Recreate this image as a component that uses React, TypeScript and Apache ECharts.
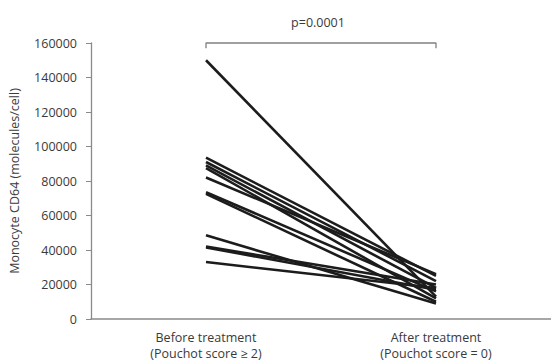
import React, { useEffect, useRef } from "react";
import * as echarts from "echarts";

const categories = ["Before treatment\n(Pouchot score ≥ 2)", "After treatment\n(Pouchot score = 0)"];
const beforeValues = [150000, 93500, 91000, 89000, 87500, 82000, 73500, 72500, 48500, 42000, 41500, 33000];
const afterValues = [13000, 25000, 22000, 18000, 12000, 26000, 16000, 10000, 9000, 20000, 17000, 18000];
const yTicks = { min: 0, max: 160000, interval: 20000 };
const bracketValues = [157000, 160000, 160000, 157000];
const pLabel = "p=0.0001";
const yName = "Monocyte CD64 (molecules/cell)";

const FONT = "'Open Sans', sans-serif";

export default function App() {
  const ref = useRef<HTMLDivElement>(null);
  useEffect(() => {
    document.body.style.margin = "0";
    if (!ref.current) return;
    const chart = echarts.init(ref.current, null, { renderer: "svg" });
    const subjectSeries = beforeValues.map((b, i) => ({
      type: "line",
      data: [b, afterValues[i]],
      symbol: "none",
      lineStyle: { color: "#1c1c1c", width: 2.6 },
      z: 3,
    }));
    const bracket = {
      type: "line",
      data: [
        [0, bracketValues[0]],
        [0, bracketValues[1]],
        [1, bracketValues[2]],
        [1, bracketValues[3]],
      ],
      symbol: "none",
      clip: false,
      lineStyle: { color: "#808080", width: 1.3 },
    };
    chart.setOption({
      animation: false,
      textStyle: { fontFamily: FONT },
      grid: { left: 86, right: 0, top: 43, bottom: 44 },
      xAxis: {
        type: "category",
        data: categories,
        boundaryGap: true,
        axisTick: { show: false },
        axisLine: { lineStyle: { color: "#8a8a8a", width: 1.5 } },
        axisLabel: { color: "#3a3a3a", fontSize: 12.5, fontFamily: FONT, margin: 10, lineHeight: 16 },
      },
      yAxis: {
        type: "value",
        min: yTicks.min,
        max: yTicks.max,
        interval: yTicks.interval,
        name: yName,
        nameLocation: "middle",
        nameGap: 70,
        nameTextStyle: { color: "#3a3a3a", fontSize: 12.5, fontFamily: FONT },
        splitLine: { show: false },
        axisLine: { show: true, lineStyle: { color: "#8a8a8a", width: 1.3 } },
        axisTick: { show: true, length: 5, lineStyle: { color: "#8a8a8a" } },
        axisLabel: {
          color: "#3a3a3a",
          fontSize: 12.5,
          fontFamily: FONT,
          margin: 14,
          formatter: (v: number) => String(v),
        },
      },
      graphic: [
        {
          type: "text",
          x: 318,
          y: 22,
          style: {
            text: pLabel,
            fill: "#3a3a3a",
            font: `12.5px ${FONT}`,
            textAlign: "center",
            textVerticalAlign: "middle",
          },
        },
      ],
      series: [...subjectSeries, bracket],
    });
    return () => chart.dispose();
  }, []);
  return <div ref={ref} style={{ width: 551, height: 363 }} />;
}
